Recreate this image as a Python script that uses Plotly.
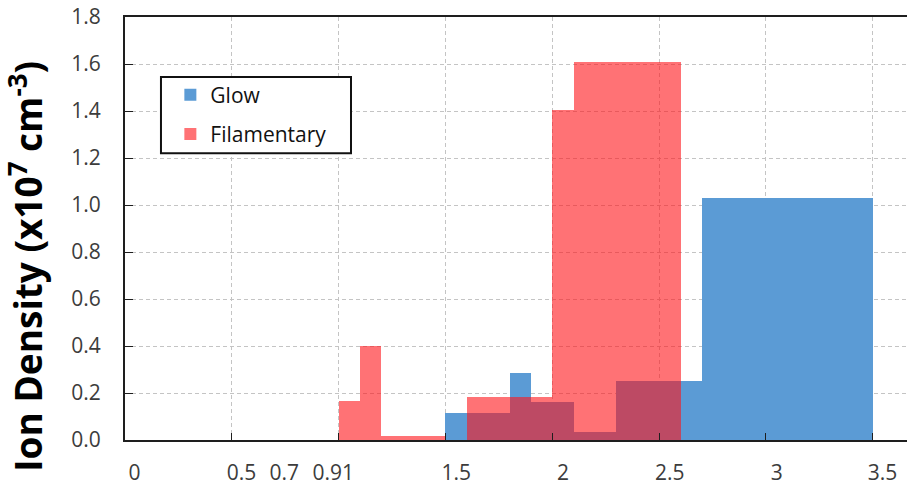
import plotly.graph_objects as go

# Bin edges on the display axis and ion densities (x10^7 cm^-3)
glow_left = [3.0, 3.6, 3.8, 4.2, 4.6, 5.4]
glow_right = [3.6, 3.8, 4.2, 4.6, 5.4, 7.0]
glow_density = [0.114, 0.284, 0.160, 0.033, 0.252, 1.030]

fil_left = [2.0, 2.2, 2.4, 3.2, 4.0, 4.2]
fil_right = [2.2, 2.4, 3.0, 4.0, 4.2, 5.2]
fil_density = [0.167, 0.400, 0.016, 0.182, 1.405, 1.608]

# x-axis labels
x_labels = ["0", "0.5", "0.7", "0.91", "1.5", "2", "2.5", "3", "3.5"]
x_label_pos = [0.09, 1.09, 1.49, 1.95, 3.10, 4.10, 5.10, 6.10, 7.09]
x_grid_pos = [1, 2, 3, 4, 5, 6, 7]

FONT = "Open Sans"
BLUE = "#5B9BD5"
RED = "rgba(255,20,25,0.6)"
GRID = "#c4c4c4"
AXIS = "#1e1e1e"
TICKTXT = "#3c3c3c"


def centers(lefts, rights):
    return [(a + b) / 2 for a, b in zip(lefts, rights)]


def widths(lefts, rights):
    return [b - a for a, b in zip(lefts, rights)]


fig = go.Figure()
fig.add_trace(go.Bar(
    x=centers(glow_left, glow_right), y=glow_density,
    width=widths(glow_left, glow_right),
    marker=dict(color=BLUE, line=dict(width=0)),
    name="Glow", legendgroup="g",
))
fig.add_trace(go.Bar(
    x=centers(fil_left, fil_right), y=fil_density,
    width=widths(fil_left, fil_right),
    marker=dict(color=RED, line=dict(width=0)),
    name="Filamentary", legendgroup="f",
))

fig.update_layout(
    width=907, height=486,
    margin=dict(l=125, r=0, t=17, b=46, autoexpand=False),
    plot_bgcolor="white", paper_bgcolor="white",
    barmode="overlay", bargap=0,
    font=dict(family=FONT, color=TICKTXT),
    legend=dict(
        x=0.058, y=0.864, xanchor="left", yanchor="top",
        borderwidth=0, bgcolor="rgba(0,0,0,0)",
        font=dict(family=FONT, size=21, color="#111111"),
        traceorder="grouped", tracegroupgap=9,
        itemwidth=30,
    ),
    # framed white box behind the legend entries
    shapes=[dict(
        type="rect", xref="paper", yref="paper",
        x0=0.046, x1=0.289, y0=0.678, y1=0.858,
        line=dict(color="#111111", width=2), fillcolor="white",
        layer="above",
    )],
    xaxis=dict(
        range=[0, 7.32], automargin=False,
        tickmode="array", tickvals=x_label_pos, ticktext=x_labels,
        ticks="", showgrid=False, zeroline=False,
        showline=True, mirror=True, linecolor=AXIS, linewidth=2,
        tickfont=dict(family=FONT, size=21, color=TICKTXT),
        ticklabelstandoff=13,
        minor=dict(
            tickmode="array", tickvals=x_grid_pos,
            ticks="inside", ticklen=7, tickcolor=AXIS, tickwidth=1,
            showgrid=True, gridcolor=GRID, griddash="4px,3px", gridwidth=1,
        ),
    ),
    yaxis=dict(
        range=[0, 1.8], tick0=0, dtick=0.2, tickformat=".1f", automargin=False,
        ticks="inside", ticklen=8, tickcolor=AXIS, tickwidth=1,
        showgrid=True, gridcolor=GRID, griddash="4px,3px", gridwidth=1,
        zeroline=False, showline=True, linecolor=AXIS, linewidth=2,
        tickfont=dict(family=FONT, size=21, color=TICKTXT),
        ticklabelstandoff=18,
    ),
    annotations=[dict(
        text="<b>Ion Density (x10<sup>7</sup> cm<sup>-3</sup>)</b>",
        textangle=-90, showarrow=False,
        xref="paper", yref="paper", x=-0.1265, y=0.41,
        xanchor="center", yanchor="middle",
        font=dict(family=FONT, size=37, color="#000000"),
    )],
)

fig.write_html("out.html")
